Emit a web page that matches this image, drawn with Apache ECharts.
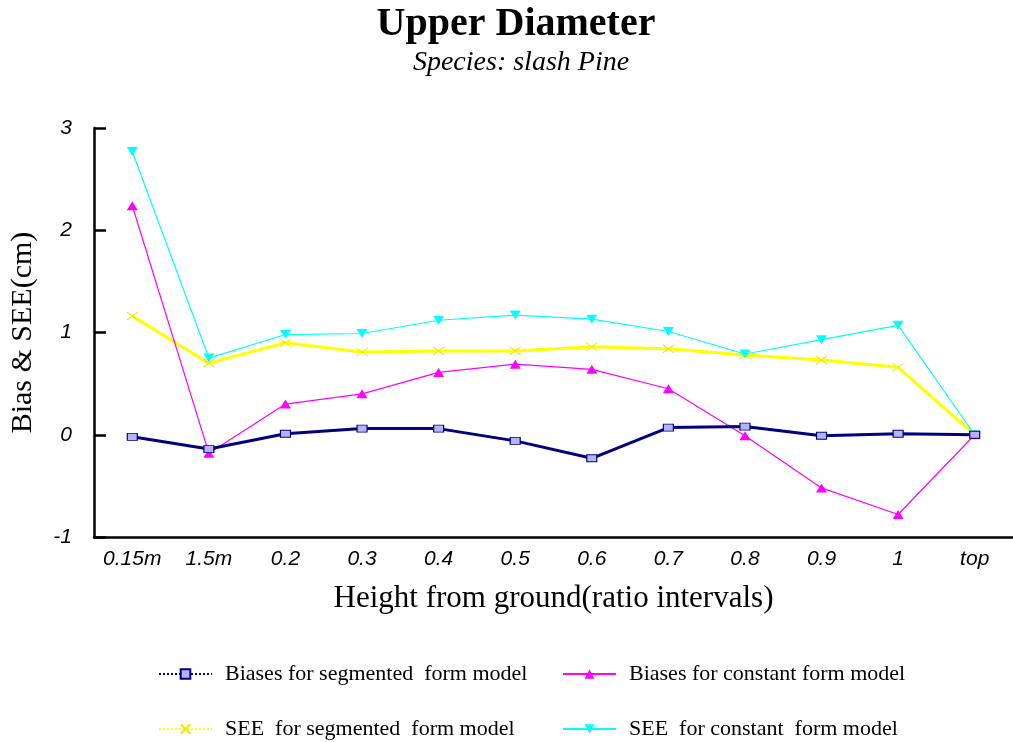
<!DOCTYPE html>
<html lang="en">
<head>
    <meta charset="UTF-8">
    <title>Upper Diameter</title>
    <script src="https://cdn.jsdelivr.net/npm/echarts@6/dist/echarts.min.js"></script>
    <style>
        html, body { margin: 0; padding: 0; background: #fff; }
    </style>
</head>
<body>
<div id="main" style="width: 1013px; height: 742px;"></div>
<script>
    // categories along the x axis
    var heights = ['0.15m', '1.5m', '0.2', '0.3', '0.4', '0.5', '0.6', '0.7', '0.8', '0.9', '1', 'top'];

    // values (cm)
    var biasSegmented = [-0.02, -0.14, 0.01, 0.06, 0.06, -0.06, -0.23, 0.07, 0.08, -0.01, 0.01, 0.0];
    var biasConstant  = [2.24, -0.18, 0.30, 0.40, 0.61, 0.69, 0.64, 0.45, -0.01, -0.52, -0.78, 0.0];
    var seeSegmented  = [1.16, 0.70, 0.90, 0.81, 0.82, 0.82, 0.86, 0.84, 0.78, 0.73, 0.66, 0.0];
    var seeConstant   = [2.77, 0.75, 0.98, 0.99, 1.12, 1.17, 1.13, 1.01, 0.79, 0.93, 1.07, 0.0];

    var names = [
        'Biases for segmented  form model',
        'Biases for constant form model',
        'SEE  for segmented  form model',
        'SEE  for constant  form model'
    ];

    var serif = 'Liberation Serif';
    var sans = 'Liberation Sans';

    var myChart = echarts.init(document.getElementById('main'));

    // one legend per entry so the two columns line up like the original
    var legendAt = function (name, left, top, dotted) {
        return {
            left: left,
            top: top,
            itemWidth: 53,
            itemHeight: 12,
            data: [{name: name, lineStyle: dotted ? {type: 'dotted'} : {}}],
            textStyle: {
                fontFamily: serif,
                fontSize: 22,
                color: '#000',
                padding: [0, 0, 0, 8]
            }
        };
    };

    var option = {
        animation: false,
        backgroundColor: '#fff',
        title: [
            {
                text: 'Upper Diameter',
                left: 511,
                top: 0,
                textAlign: 'center',
                textStyle: {fontFamily: serif, fontSize: 40, fontWeight: 'bold', color: '#000'}
            },
            {
                text: 'Species: slash Pine',
                left: 516,
                top: 44,
                textAlign: 'center',
                textStyle: {fontFamily: serif, fontSize: 28, fontStyle: 'italic', fontWeight: 'normal', color: '#000'}
            }
        ],
        legend: [
            legendAt(names[0], 153, 658, true),
            legendAt(names[1], 557, 658, false),
            legendAt(names[2], 153, 713, true),
            legendAt(names[3], 557, 713, false)
        ],
        grid: {
            left: 93,
            top: 128,
            width: 928,
            height: 409
        },
        xAxis: [
            {
                type: 'category',
                data: heights,
                boundaryGap: true,
                name: 'Height from ground(ratio intervals)',
                nameLocation: 'middle',
                nameGap: 46,
                nameTextStyle: {fontFamily: serif, fontSize: 31, color: '#000'},
                axisLine: {onZero: false, lineStyle: {color: '#000', width: 2.5}},
                axisTick: {alignWithLabel: true, length: 8, lineStyle: {color: '#000', width: 2.5}},
                axisLabel: {
                    margin: 12,
                    fontFamily: sans,
                    fontSize: 21,
                    fontStyle: 'italic',
                    color: '#000',
                    interval: 0
                },
                splitLine: {show: false}
            },
            {
                // inner half of the crossing ticks
                type: 'category',
                data: heights,
                position: 'bottom',
                boundaryGap: true,
                axisLine: {show: false, onZero: false},
                axisTick: {alignWithLabel: true, inside: true, length: 8, lineStyle: {color: '#000', width: 2.5}},
                axisLabel: {show: false},
                splitLine: {show: false}
            }
        ],
        yAxis: {
            type: 'value',
            min: -1,
            max: 3,
            interval: 1,
            name: 'Bias & SEE(cm)',
            nameLocation: 'middle',
            nameGap: 56,
            nameTextStyle: {fontFamily: serif, fontSize: 30, color: '#000'},
            axisLine: {show: true, lineStyle: {color: '#000', width: 2.5}},
            axisTick: {show: true, inside: true, length: 12, lineStyle: {color: '#000', width: 2.5}},
            axisLabel: {
                margin: 22,
                fontFamily: sans,
                fontSize: 21,
                fontStyle: 'italic',
                color: '#000'
            },
            splitLine: {show: false}
        },
        series: [
            {
                name: names[2],
                type: 'line',
                data: seeSegmented,
                symbol: 'path://M0,0L10,10M10,0L0,10',
                symbolSize: [11, 8],
                lineStyle: {color: '#ffff00', width: 3},
                itemStyle: {color: 'none', borderColor: '#f2e800', borderWidth: 1}
            },
            {
                name: names[3],
                type: 'line',
                data: seeConstant,
                symbol: 'triangle',
                symbolRotate: 180,
                symbolSize: [11, 9],
                lineStyle: {color: '#00ffff', width: 1.2},
                itemStyle: {color: '#00ffff'}
            },
            {
                name: names[1],
                type: 'line',
                data: biasConstant,
                symbol: 'triangle',
                symbolSize: [11, 9],
                lineStyle: {color: '#ff00ff', width: 1.2},
                itemStyle: {color: '#ff00ff'}
            },
            {
                name: names[0],
                type: 'line',
                data: biasSegmented,
                symbol: 'rect',
                symbolSize: [10, 7],
                z: 5,
                lineStyle: {color: '#000080', width: 3},
                itemStyle: {color: '#b4b4f0', borderColor: '#000080', borderWidth: 1}
            }
        ]
    };

    myChart.setOption(option);
</script>
</body>
</html>
